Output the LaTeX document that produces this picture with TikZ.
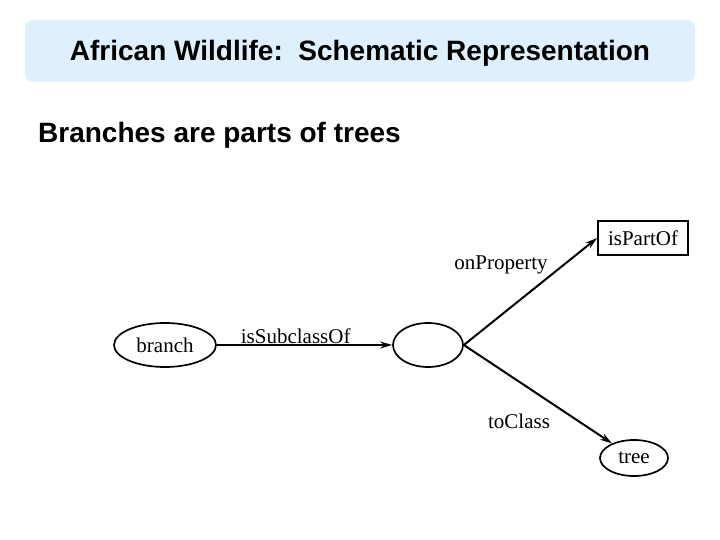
\documentclass[tikz,border=0pt]{standalone}
\usepackage{fontspec}
\setmainfont{Liberation Serif}
\newfontfamily\headfont{Liberation Sans}
\usetikzlibrary{shapes.geometric, arrows.meta, positioning}
\definecolor{titleblue}{RGB}{222, 240, 251}

\begin{document}
\begin{tikzpicture}[x=1pt, y=-1pt,
  cls/.style={draw, ellipse, line width=1.7pt, inner sep=0pt, font=\fontsize{21}{23}\selectfont},
  prop/.style={draw, rectangle, line width=1.7pt, inner sep=0pt, font=\fontsize{21}{23}\selectfont},
  lbl/.style={font=\fontsize{21}{23}\selectfont},
  edge/.style={-{Stealth[length=12pt, width=7pt]}, line width=2pt},
]
  \useasboundingbox (0,0) rectangle (720,540);
  \fill[white] (0,0) rectangle (720,540);

  \fill[titleblue, rounded corners=8pt] (25,20) rectangle (695,82);
  \node[font=\headfont\bfseries\fontsize{28}{32}\selectfont] (title) at (360,53)
    {African Wildlife:\ \ Schematic Representation};
  \node[anchor=base west, inner sep=0pt, font=\headfont\bfseries\fontsize{28}{32}\selectfont] (sub) at (38,143)
    {Branches are parts of trees};

  \node[cls, minimum width=102pt, minimum height=44pt] (branch) at (165,345) {branch};
  \node[cls, minimum width=70pt, minimum height=44pt] (anon) at (428,345) {};
  \node[prop, minimum width=90pt, minimum height=34pt] (part) at (643,238) {isPartOf};
  \node[cls, minimum width=68pt, minimum height=36pt] (tree) at (634,458) {tree};

  \draw[edge, line width=1.6pt] (branch) -- (anon) node[lbl, pos=0.45, above=-3pt] {isSubclassOf};
  \draw[edge] (anon.east) -- (part.west);
  \draw[edge] (anon.east) -- (tree);

  \node[lbl] (onprop) at (501,265) {onProperty};
  \node[lbl] (tocls) at (519,421) {toClass};
\end{tikzpicture}
\end{document}
